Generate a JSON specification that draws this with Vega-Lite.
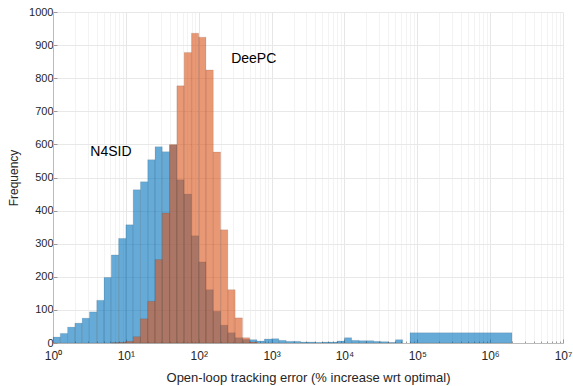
{
  "$schema": "https://vega.github.io/schema/vega-lite/v6.json",
  "width": 510,
  "height": 331,
  "autosize": "none",
  "padding": {"left": 53, "top": 12, "right": 10, "bottom": 43},
  "config": {"font": "Liberation Sans", "view": {"stroke": null}},
  "datasets": {
    "hist": [
      {"s": "N4SID", "lo": 1, "hi": 1.2589, "n": 18},
      {"s": "N4SID", "lo": 1.2589, "hi": 1.5849, "n": 29},
      {"s": "N4SID", "lo": 1.5849, "hi": 1.9953, "n": 48},
      {"s": "N4SID", "lo": 1.9953, "hi": 2.5119, "n": 60},
      {"s": "N4SID", "lo": 2.5119, "hi": 3.1623, "n": 75},
      {"s": "N4SID", "lo": 3.1623, "hi": 3.9811, "n": 94},
      {"s": "N4SID", "lo": 3.9811, "hi": 5.0119, "n": 129},
      {"s": "N4SID", "lo": 5.0119, "hi": 6.3096, "n": 198},
      {"s": "N4SID", "lo": 6.3096, "hi": 7.9433, "n": 266},
      {"s": "N4SID", "lo": 7.9433, "hi": 10, "n": 316},
      {"s": "N4SID", "lo": 10, "hi": 12.589, "n": 357},
      {"s": "N4SID", "lo": 12.589, "hi": 15.849, "n": 463},
      {"s": "N4SID", "lo": 15.849, "hi": 19.953, "n": 487},
      {"s": "N4SID", "lo": 19.953, "hi": 25.119, "n": 554},
      {"s": "N4SID", "lo": 25.119, "hi": 31.623, "n": 593},
      {"s": "N4SID", "lo": 31.623, "hi": 39.811, "n": 578},
      {"s": "N4SID", "lo": 39.811, "hi": 50.119, "n": 598},
      {"s": "N4SID", "lo": 50.119, "hi": 63.096, "n": 493},
      {"s": "N4SID", "lo": 63.096, "hi": 79.433, "n": 450},
      {"s": "N4SID", "lo": 79.433, "hi": 100, "n": 324},
      {"s": "N4SID", "lo": 100, "hi": 125.89, "n": 245},
      {"s": "N4SID", "lo": 125.89, "hi": 158.49, "n": 161},
      {"s": "N4SID", "lo": 158.49, "hi": 199.53, "n": 96},
      {"s": "N4SID", "lo": 199.53, "hi": 251.19, "n": 54},
      {"s": "N4SID", "lo": 251.19, "hi": 316.23, "n": 31},
      {"s": "N4SID", "lo": 316.23, "hi": 398.11, "n": 16},
      {"s": "N4SID", "lo": 398.11, "hi": 501.19, "n": 11},
      {"s": "N4SID", "lo": 501.19, "hi": 630.96, "n": 10},
      {"s": "N4SID", "lo": 630.96, "hi": 794.33, "n": 6},
      {"s": "N4SID", "lo": 794.33, "hi": 1000, "n": 12},
      {"s": "N4SID", "lo": 1000, "hi": 1258.9, "n": 13},
      {"s": "N4SID", "lo": 1258.9, "hi": 1584.9, "n": 8},
      {"s": "N4SID", "lo": 1584.9, "hi": 1995.3, "n": 5},
      {"s": "N4SID", "lo": 1995.3, "hi": 2511.9, "n": 5},
      {"s": "N4SID", "lo": 2511.9, "hi": 3162.3, "n": 3},
      {"s": "N4SID", "lo": 3162.3, "hi": 3981.1, "n": 3},
      {"s": "N4SID", "lo": 3981.1, "hi": 5011.9, "n": 2},
      {"s": "N4SID", "lo": 5011.9, "hi": 6309.6, "n": 3},
      {"s": "N4SID", "lo": 6309.6, "hi": 7943.3, "n": 3},
      {"s": "N4SID", "lo": 7943.3, "hi": 10000, "n": 6},
      {"s": "N4SID", "lo": 10000, "hi": 12589, "n": 16},
      {"s": "N4SID", "lo": 12589, "hi": 15849, "n": 8},
      {"s": "N4SID", "lo": 15849, "hi": 19953, "n": 7},
      {"s": "N4SID", "lo": 19953, "hi": 25119, "n": 7},
      {"s": "N4SID", "lo": 25119, "hi": 31623, "n": 5},
      {"s": "N4SID", "lo": 31623, "hi": 39811, "n": 4},
      {"s": "N4SID", "lo": 39811, "hi": 50119, "n": 2},
      {"s": "N4SID", "lo": 50119, "hi": 63096, "n": 10},
      {"s": "N4SID", "lo": 79433, "hi": 1995262, "n": 31},
      {"s": "DeePC", "lo": 6.3096, "hi": 7.9433, "n": 1},
      {"s": "DeePC", "lo": 7.9433, "hi": 10, "n": 2},
      {"s": "DeePC", "lo": 10, "hi": 12.589, "n": 5},
      {"s": "DeePC", "lo": 12.589, "hi": 15.849, "n": 19},
      {"s": "DeePC", "lo": 15.849, "hi": 19.953, "n": 73},
      {"s": "DeePC", "lo": 19.953, "hi": 25.119, "n": 126},
      {"s": "DeePC", "lo": 25.119, "hi": 31.623, "n": 252},
      {"s": "DeePC", "lo": 31.623, "hi": 39.811, "n": 393},
      {"s": "DeePC", "lo": 39.811, "hi": 50.119, "n": 600},
      {"s": "DeePC", "lo": 50.119, "hi": 63.096, "n": 777},
      {"s": "DeePC", "lo": 63.096, "hi": 79.433, "n": 878},
      {"s": "DeePC", "lo": 79.433, "hi": 100, "n": 936},
      {"s": "DeePC", "lo": 100, "hi": 125.89, "n": 924},
      {"s": "DeePC", "lo": 125.89, "hi": 158.49, "n": 825},
      {"s": "DeePC", "lo": 158.49, "hi": 199.53, "n": 577},
      {"s": "DeePC", "lo": 199.53, "hi": 251.19, "n": 342},
      {"s": "DeePC", "lo": 251.19, "hi": 316.23, "n": 161},
      {"s": "DeePC", "lo": 316.23, "hi": 398.11, "n": 76},
      {"s": "DeePC", "lo": 398.11, "hi": 501.19, "n": 16},
      {"s": "DeePC", "lo": 501.19, "hi": 630.96, "n": 3}
    ],
    "notes": [
      {"label": "N4SID", "lo": 3.25, "n": 578},
      {"label": "DeePC", "lo": 279, "n": 858}
    ]
  },
  "encoding": {
    "x": {
      "field": "lo", "type": "quantitative",
      "scale": {"type": "log", "domain": [1, 10000000], "nice": false},
      "axis": {
        "title": "Open-loop tracking error (% increase wrt optimal)",
        "titleFontSize": 13, "titleFontWeight": "normal", "titleColor": "#262626", "titlePadding": 8,
        "values": [1,2,3,4,5,6,7,8,9,10,20,30,40,50,60,70,80,90,100,200,300,400,500,600,700,800,900,1000,2000,3000,4000,5000,6000,7000,8000,9000,10000,20000,30000,40000,50000,60000,70000,80000,90000,100000,200000,300000,400000,500000,600000,700000,800000,900000,1000000,2000000,3000000,4000000,5000000,6000000,7000000,8000000,9000000,10000000],
        "labelExpr": "abs(log(datum.value)/LN10 - round(log(datum.value)/LN10)) < 0.01 ? '10' + ['⁰','¹','²','³','⁴','⁵','⁶','⁷'][round(log(datum.value)/LN10)] : ''",
        "labelOverlap": false, "labelFlush": false,
        "labelFontSize": 12, "labelColor": "#262626", "labelPadding": 11,
        "domainColor": "#bbbbbb",
        "tickColor": "#999999",
        "tickSize": {"condition": {"test": "abs(log(datum.value)/LN10 - round(log(datum.value)/LN10)) < 0.01", "value": -4}, "value": -2},
        "grid": true,
        "gridColor": {"condition": {"test": "abs(log(datum.value)/LN10 - round(log(datum.value)/LN10)) < 0.01", "value": "#e6e6e6"}, "value": "#f3f3f3"}
      }
    },
    "y": {
      "field": "n", "type": "quantitative", "stack": null,
      "scale": {"domain": [0, 1000], "nice": false},
      "axis": {
        "title": "Frequency", "titleFontSize": 12, "titleFontWeight": "normal", "titleColor": "#262626", "titlePadding": 8,
        "values": [0,100,200,300,400,500,600,700,800,900,1000],
        "format": "d", "labelOverlap": false,
        "labelFontSize": 11, "labelColor": "#262626", "labelPadding": 4,
        "domainColor": "#bbbbbb", "tickColor": "#999999", "tickSize": -4,
        "grid": true, "gridColor": "#e8e8e8"
      }
    }
  },
  "layer": [
    {
      "data": {"name": "hist"},
      "transform": [{"filter": "datum.s === 'N4SID'"}],
      "mark": {"type": "bar", "color": "#0072BD", "fillOpacity": 0.6, "stroke": "#000000", "strokeOpacity": 0.18, "strokeWidth": 0.5},
      "encoding": {
        "x2": {"field": "hi"},
        "y2": {"datum": 0}
      }
    },
    {
      "data": {"name": "hist"},
      "transform": [{"filter": "datum.s === 'DeePC'"}],
      "mark": {"type": "bar", "color": "#D95319", "fillOpacity": 0.6, "stroke": "#000000", "strokeOpacity": 0.18, "strokeWidth": 0.5},
      "encoding": {
        "x2": {"field": "hi"},
        "y2": {"datum": 0}
      }
    },
    {
      "data": {"name": "notes"},
      "mark": {"type": "text", "align": "left", "baseline": "middle", "fontSize": 14, "color": "#000000"},
      "encoding": {
        "text": {"field": "label"}
      }
    }
  ]
}
